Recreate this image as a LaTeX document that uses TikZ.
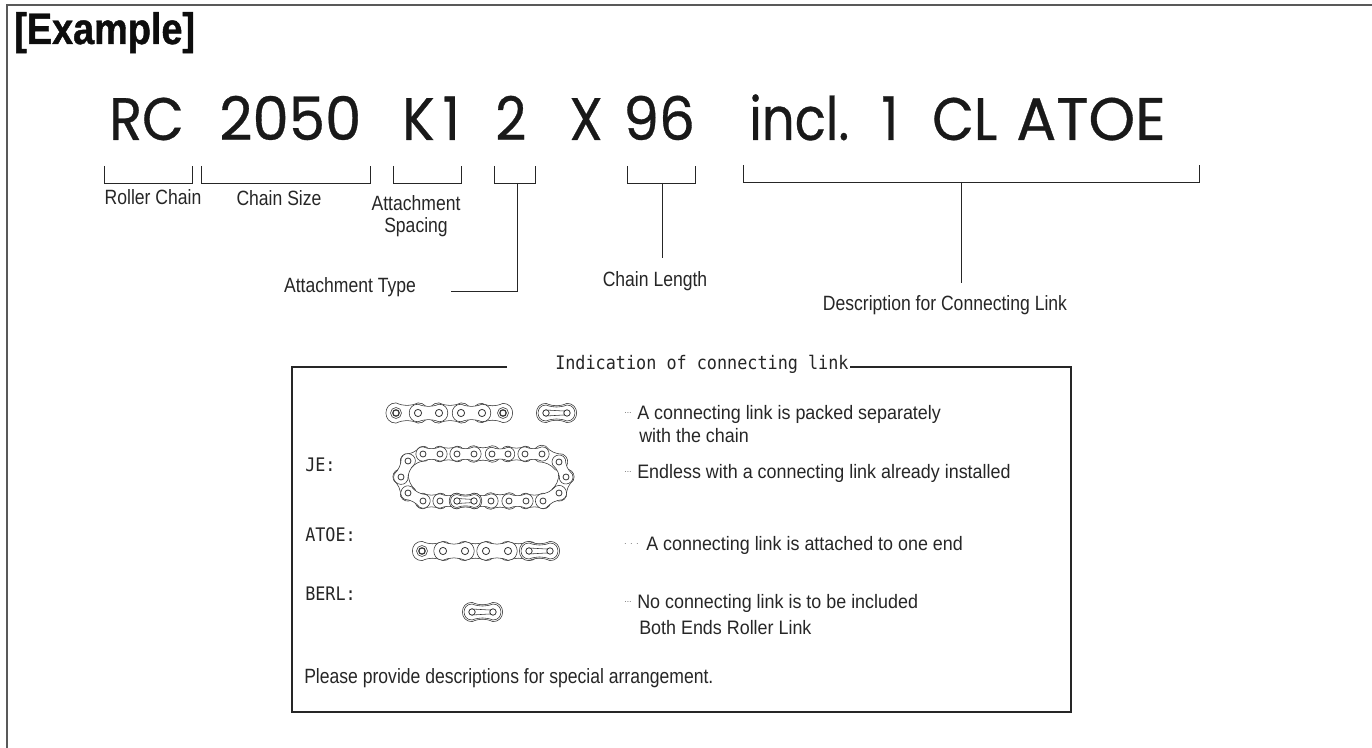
\documentclass[tikz,border=0pt]{standalone}
\usepackage{fontspec}
\setmainfont{Liberation Sans}
\newfontfamily\bigf[FakeStretch=0.9,FakeBold=0.5]{Poppins}
\newfontfamily\lblf[FakeStretch=0.85]{Liberation Sans}
\newfontfamily\rtxtf[FakeStretch=0.92]{Liberation Sans}
\newfontfamily\headf[FakeStretch=0.86,FakeBold=1]{Liberation Sans}
\newfontfamily\monof[FakeStretch=0.9]{DejaVu Sans Mono}
\newcommand{\peanut}[5]{%
  \pgfmathsetmacro{\La}{veclen(#3-#1,#4-#2)}%
  \pgfmathsetmacro{\Aa}{atan2(-(#4-#2),#3-#1)}%
  \pgfmathsetmacro{\Ra}{#5*\La}%
  \pgfmathsetmacro{\Wa}{0.66*\Ra}%
  \begin{scope}[shift={(#1,#2)},rotate=\Aa]
    \draw[chainline,fill=white] (0,-\Ra) .. controls (-1.33*\Ra,-\Ra) and (-1.33*\Ra,\Ra) .. (0,\Ra)
      .. controls (0.35*\La,\Wa) and (0.65*\La,\Wa) .. (\La,\Ra)
      .. controls (\La+1.33*\Ra,\Ra) and (\La+1.33*\Ra,-\Ra) .. (\La,-\Ra)
      .. controls (0.65*\La,-\Wa) and (0.35*\La,-\Wa) .. cycle;
  \end{scope}}
\newcommand{\holea}[3]{\draw[chainline,line width=.6pt,fill=white] (#1,#2) circle[radius=#3];}
\newcommand{\termpin}[2]{\draw[chainline,fill=white] (#1,#2) circle[radius=5.5]; \draw[chainline,line width=.9pt,fill=white] (#1,#2) circle[radius=3.2];}
\newcommand{\clink}[5]{% x1 y1 x2 y2 size
  \peanut{#1}{#2}{#3}{#4}{.46}\peanut{#1}{#2}{#3}{#4}{.38}%
  \draw[chainline,fill=white] (#1,#2-#5) -- (#3,#4-.6*#5) -- (#3,#4+.6*#5) -- (#1,#2+#5) -- cycle;
  \holea{#1}{#2}{3.2}\holea{#3}{#4}{3.2}}
\tikzset{
  x=.75pt,y=-.75pt,
  chainline/.style={line width=.42pt,draw=black!80},
  thinrule/.style={line width=.7pt,draw=black!85},
  heavyrule/.style={line width=1.5pt,draw=black!85},
  framerule/.style={line width=1pt,draw=black!65},
  bigt/.style={inner sep=0,anchor=base west,font=\bigf\fontsize{45pt}{45pt}\selectfont,text=black!90},
  lbl/.style={inner sep=0,anchor=base,font=\lblf\fontsize{15.5pt}{17pt}\selectfont,text=black!85},
  lbll/.style={inner sep=0,anchor=base west,font=\lblf\fontsize{15.5pt}{17pt}\selectfont,text=black!85},
  rtxt/.style={inner sep=0,anchor=base west,font=\rtxtf\fontsize{14.6pt}{17pt}\selectfont,text=black!85},
  monot/.style={inner sep=0,anchor=base west,font=\monof\fontsize{14pt}{16pt}\selectfont,text=black!85},
  dotst/.style={inner sep=0,anchor=base west,font=\rtxtf\fontsize{6pt}{7pt}\selectfont,text=black!75},
}
\begin{document}
\begin{tikzpicture}
\useasboundingbox (0,0) rectangle (1372,748);
% frame
\draw[framerule] (7,748) -- (7,5) -- (1372,5);
\node[inner sep=0,anchor=base west,font=\headf\bfseries\fontsize{33pt}{33pt}\selectfont,text=black!95] (head) at (14,44) {[Example]};
% large code
\node[bigt] (t1) at (109,140) {RC};
\node[bigt,xscale=1.07] (t2) at (219,140) {2050};
\node[bigt] (t3) at (402,140) {K\hspace{6pt}1};
\node[bigt] (t4) at (495,140) {2};
\node[bigt] (t5) at (569,140) {X};
\node[bigt,xscale=1.05] (t6) at (623,140) {96};
\node[bigt,xscale=.95] (t7) at (749,140) {incl.};
\node[bigt] (t8) at (881,140) {1};
\node[bigt] (t9) at (932,140) {CL};
\node[bigt,xscale=1.1] (t10) at (1016,140) {ATOE};
% brackets
\draw[thinrule] (104,166) -- (104,183) -- (192,183) -- (192,166);
\draw[thinrule] (201,166) -- (201,183) -- (370,183) -- (370,166);
\draw[thinrule] (393,166) -- (393,183) -- (461,183) -- (461,166);
\draw[thinrule] (494,166) -- (494,183) -- (535,183) -- (535,166);
\draw[thinrule] (627,166) -- (627,183) -- (695,183) -- (695,166);
\draw[thinrule] (743,165) -- (743,182) -- (1199,182) -- (1199,165);
\coordinate (typeEnd) at (451,291);
\coordinate (typeTop) at (517,183);
\draw[thinrule] (typeTop) |- (typeEnd);
\coordinate (lenTop) at (662,183);
\coordinate (lenEnd) at (662,258);
\draw[thinrule] (lenTop) -- (lenEnd);
\coordinate (descTop) at (961,182);
\coordinate (descEnd) at (961,283);
\draw[thinrule] (descTop) -- (descEnd);
% labels
\node[lbl] (l1) at (153,205) {Roller Chain};
\node[lbl] (l2) at (279,206) {Chain Size};
\node[lbl] (l3) at (416,211) {Attachment};
\node[lbl] (l3b) at (416,233) {Spacing};
\node[lbl] (l4) at (350,293) {Attachment Type};
\node[lbl] (l5) at (655,287) {Chain Length};
\node[lbl] (l6) at (945,311) {Description for Connecting Link};
% box
\draw[heavyrule] (507,367) -- (292,367) -- (292,712) -- (1071,712) -- (1071,367) -- (850,367);
\node[monot] (ind) at (555,370) {Indication of connecting link};
\node[monot] (je) at (305,472) {JE:};
\node[monot] (at) at (305,542) {ATOE:};
\node[monot] (be) at (305,600) {BERL:};
% right texts
\node[dotst] (d1) at (624,414) {…};
\node[rtxt] (r1) at (637,420) {A connecting link is packed separately};
\node[rtxt] (r1b) at (639,443) {with the chain};
\node[dotst] (d2) at (624,473) {…};
\node[rtxt] (r2) at (637,479) {Endless with a connecting link already installed};
\node[dotst] (d3) at (624,545) {.\hspace{3pt}.\hspace{3pt}.};
\node[rtxt] (r3) at (646,551) {A connecting link is attached to one end};
\node[dotst] (d4) at (624,603) {…};
\node[rtxt] (r4) at (637,609) {No connecting link is to be included};
\node[rtxt] (r4b) at (639,634) {Both Ends Roller Link};
\node[lbll] (pl) at (304,683) {Please provide descriptions for special arrangement.};
% chain 1
\foreach \a/\b in {396/418,439/461,482/503}{\peanut{\a}{413}{\b}{413}{.46}}
\foreach \a/\b in {418/439,461/482}{\peanut{\a}{413}{\b}{413}{.42}}
\foreach \x in {418,439,461,482}{\holea{\x}{413}{3.6}}
\termpin{396}{413}\termpin{503}{413}
\clink{546}{413}{567}{413}{3}
% endless
\foreach \a/\b/\c/\d in {440/454/457/454,474/454/492/454,508/454/525/454,542/454/559/462,566/477/559/493,543/501/526/501,509/501/491/501,474/501/457/501,440/501/423/501,408/493/401/477,408/461/423/454}{\peanut{\a}{\b}{\c}{\d}{.46}}
\foreach \a/\b/\c/\d in {423/454/440/454,457/454/474/454,492/454/508/454,525/454/542/454,559/462/566/477,559/493/543/501,526/501/509/501,491/501/474/501,457/501/440/501,423/501/408/493,401/477/408/461}{\peanut{\a}{\b}{\c}{\d}{.42}}
\foreach \p/\q in {423/454,440/454,457/454,474/454,492/454,508/454,525/454,542/454,559/462,566/477,559/493,543/501,526/501,509/501,491/501,440/501,423/501,408/493,401/477,408/461}{\holea{\p}{\q}{3}}
\clink{457}{501}{474}{501}{2.5}
% ATOE chain
\foreach \a/\b in {422/443,465/486,508/529}{\peanut{\a}{551}{\b}{551}{.46}}
\foreach \a/\b in {443/465,486/508}{\peanut{\a}{551}{\b}{551}{.42}}
\foreach \x in {443,465,486,508}{\holea{\x}{551}{3.6}}
\termpin{422}{551}
\clink{529}{551}{550}{551}{3}
% BERL link
\clink{472}{612}{493}{612}{3}
\end{tikzpicture}
\end{document}
